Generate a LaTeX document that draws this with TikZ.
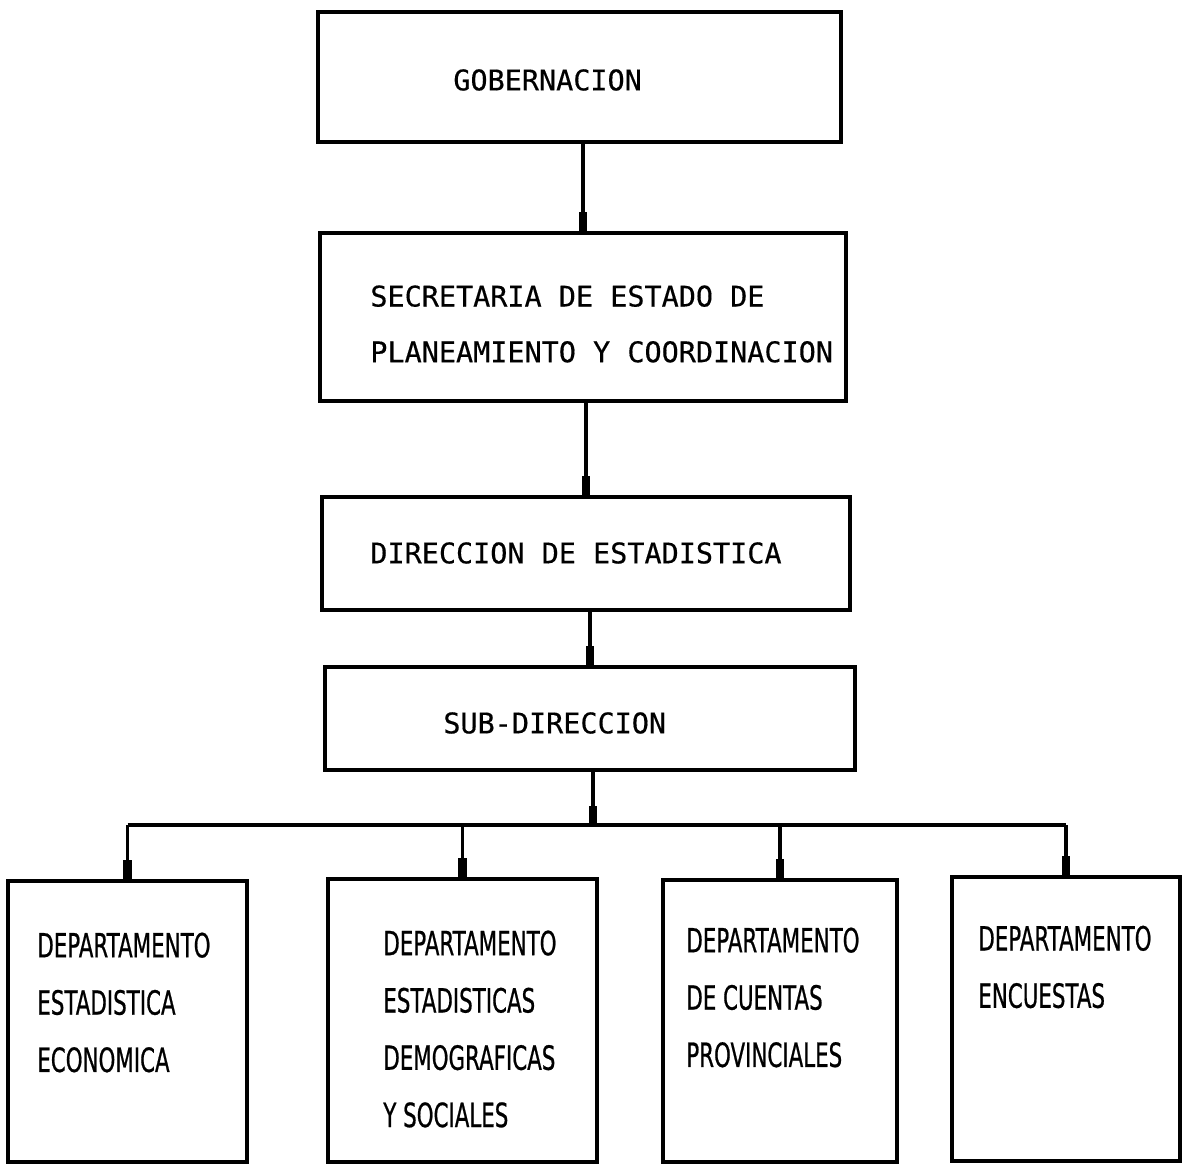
\documentclass[tikz,border=0pt]{standalone}
\usepackage{fontspec}
\newfontfamily\orgfont{DejaVu Sans Mono}[FakeBold=0.4]
\newfontfamily\deptfont{DejaVu Sans}[FakeStretch=0.64,FakeBold=0.6]
\usetikzlibrary{arrows.meta}
\newdimen\pxu
\pxu=0.02cm

\begin{document}
\begin{tikzpicture}[x=0.02cm,y=-0.02cm]
	\tikzstyle{every node}+=[inner sep=0pt]
	\tikzstyle{unit}=[draw,line width=1.8pt]
	\tikzstyle{orgtext}=[anchor=west,align=left,font=\orgfont\fontsize{16.2pt}{31.7pt}\selectfont]
	\tikzstyle{depttext}=[anchor=west,align=left,font=\deptfont\fontsize{19pt}{32.6pt}\selectfont]
	\tikzstyle{link}=[line width=1.8pt,-{Rectangle[length=11pt,width=4.6pt]}]
	\useasboundingbox (0,0) rectangle (1184,1165);
	% upper chain
	\node[unit,minimum width=523\pxu,minimum height=130\pxu] (gob) at (579.5,77) {};
	\node[unit,minimum width=526\pxu,minimum height=168\pxu] (sec) at (583,317) {};
	\node[unit,minimum width=528\pxu,minimum height=113\pxu] (dir) at (586,553.5) {};
	\node[unit,minimum width=530\pxu,minimum height=103\pxu] (sub) at (590,718.5) {};
	\node[orgtext] (gobtext) at (453,80) {GOBERNACION};
	\node[orgtext] (sectext) at (370,324) {SECRETARIA DE ESTADO DE\\PLANEAMIENTO Y COORDINACION};
	\node[orgtext] (dirtext) at (370,553) {DIRECCION DE ESTADISTICA};
	\node[orgtext] (subtext) at (443,723) {SUB-DIRECCION};
	% departments
	\node[unit,minimum width=239\pxu,minimum height=281\pxu] (dep1) at (127.5,1021.5) {};
	\node[unit,minimum width=269\pxu,minimum height=283\pxu] (dep2) at (462.5,1020.5) {};
	\node[unit,minimum width=234\pxu,minimum height=282\pxu] (dep3) at (780,1021) {};
	\node[unit,minimum width=228\pxu,minimum height=284\pxu] (dep4) at (1066,1019) {};
	\node[depttext] (dep1text) at (37,1002.5) {DEPARTAMENTO\\ESTADISTICA\\ECONOMICA};
	\node[depttext] (dep2text) at (383,1029) {DEPARTAMENTO\\ESTADISTICAS\\DEMOGRAFICAS\\Y SOCIALES};
	\node[depttext] (dep3text) at (686,997.5) {DEPARTAMENTO\\DE CUENTAS\\PROVINCIALES};
	\node[depttext] (dep4text) at (978,967) {DEPARTAMENTO\\ENCUESTAS};
	% connectors
	\coordinate (bus) at (593,825);
	\draw[link] (gob.south -| sec.north) -- (sec.north);
	\draw[link] (sec.south -| dir.north) -- (dir.north);
	\draw[link] (dir.south -| sub.north) -- (sub.north);
	\draw[link] (sub.south -| bus) -- (bus);
	\draw[line width=1.8pt] (dep1.north |- bus) -- (dep4.north |- bus);
	\foreach \d in {dep1,dep2,dep3,dep4}
		\draw[link] (\d.north |- bus) -- (\d.north);
\end{tikzpicture}
\end{document}
